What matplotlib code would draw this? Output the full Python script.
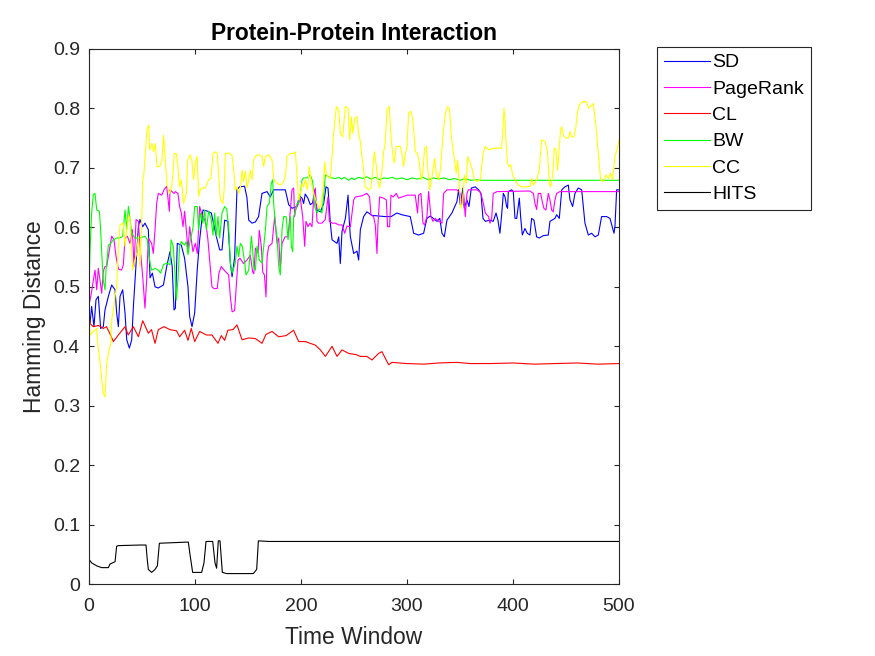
import matplotlib
matplotlib.use('Agg')
import matplotlib.pyplot as plt

plt.rcParams['font.family'] = ['Liberation Sans', 'DejaVu Sans']

# (time window, hamming distance) breakpoints
sd = [(0, 0.44), (1, 0.439), (2.5, 0.467), (4.7, 0.433), (6.6, 0.478), (8.8, 0.484), (11, 0.43),
      (13.5, 0.433), (15.1, 0.461), (18.3, 0.484), (21.4, 0.503), (24.6, 0.495), (26.1, 0.456),
      (27.7, 0.433), (29.3, 0.484), (31.8, 0.495), (34, 0.456), (35.6, 0.411), (38.1, 0.397),
      (40.3, 0.411), (41.9, 0.467), (44.4, 0.537), (46.6, 0.601), (48.1, 0.613), (50.7, 0.601),
      (52.8, 0.607), (56, 0.596), (57.6, 0.515), (59.8, 0.523), (62.3, 0.5), (65.4, 0.498),
      (70.2, 0.503), (73.3, 0.534), (76.4, 0.559), (78.5, 0.534), (80.2, 0.461), (81.5, 0.464),
      (83.3, 0.573), (87.1, 0.57), (90.2, 0.548), (93.4, 0.5), (95, 0.45), (97.2, 0.433),
      (99.7, 0.456), (102.2, 0.531), (104.4, 0.579), (107.5, 0.629), (112.2, 0.627), (115.4, 0.624),
      (120.1, 0.585), (123.3, 0.562), (125.5, 0.562), (128, 0.612), (131, 0.61), (133.4, 0.539),
      (135, 0.517), (137.4, 0.55), (139.6, 0.663), (141.9, 0.668), (146.8, 0.669), (149, 0.65),
      (150.7, 0.612), (153.8, 0.607), (157, 0.609), (160, 0.618), (163.2, 0.657), (168, 0.66),
      (171, 0.651), (174.2, 0.663), (185.2, 0.663), (188.4, 0.638), (191.5, 0.632), (196.3, 0.635),
      (198.5, 0.653), (201, 0.649), (202.5, 0.64), (204, 0.656), (206.5, 0.649), (208.8, 0.638),
      (211, 0.641), (213, 0.663), (215.1, 0.629), (218.3, 0.626), (221.4, 0.64), (223.6, 0.668),
      (225.5, 0.666), (227.7, 0.607), (229.3, 0.579), (234, 0.573), (235.6, 0.584), (237.1, 0.539),
      (238.7, 0.593), (241.9, 0.615), (244.4, 0.654), (245.6, 0.61), (246.6, 0.584), (249.7, 0.556),
      (252.8, 0.56), (254.4, 0.545), (256, 0.596), (259.1, 0.618), (262.2, 0.626), (267, 0.62),
      (273.2, 0.619), (279.5, 0.618), (285, 0.618), (290.5, 0.624), (295.3, 0.621), (303.1, 0.618),
      (306.3, 0.59), (311, 0.587), (315.7, 0.59), (318.8, 0.615), (322, 0.619), (328.3, 0.61),
      (331, 0.615), (333, 0.59), (335.2, 0.584), (337.7, 0.612), (342.4, 0.624), (347.1, 0.643),
      (348.7, 0.663), (350.3, 0.638), (352.8, 0.666), (354, 0.632), (356.6, 0.646), (358.5, 0.635),
      (360.7, 0.666), (364.4, 0.668), (367.6, 0.663), (369.8, 0.657), (371.7, 0.615), (373.9, 0.61),
      (378.3, 0.612), (381.4, 0.61), (384, 0.624), (385.8, 0.612), (387.7, 0.59), (389.3, 0.621),
      (390.9, 0.657), (392.5, 0.651), (394, 0.635), (394.9, 0.632), (395.6, 0.66), (398.7, 0.663),
      (400.3, 0.66), (401.9, 0.615), (403.5, 0.615), (406, 0.649), (407.2, 0.618), (408.8, 0.587),
      (411.3, 0.598), (413.5, 0.59), (416, 0.587), (417.6, 0.615), (419.8, 0.612), (422.3, 0.584),
      (424.8, 0.582), (428.6, 0.586), (433.3, 0.587), (434.9, 0.61), (439.6, 0.615), (441.2, 0.621),
      (443.7, 0.615), (446, 0.663), (449, 0.668), (452.2, 0.671), (453.8, 0.646), (456.3, 0.635),
      (458.5, 0.657), (461.6, 0.666), (464.8, 0.663), (467.9, 0.607), (471.1, 0.587), (474.2, 0.59),
      (477.4, 0.584), (480.5, 0.587), (483.6, 0.618), (488.4, 0.618), (491.5, 0.615), (495.3, 0.59),
      (496.2, 0.601), (497.8, 0.663), (500, 0.663)]

pagerank = [(0, 0.47), (1, 0.478), (2.5, 0.492), (4.1, 0.511), (5.7, 0.528), (7.3, 0.495),
            (8.8, 0.531), (10.4, 0.511), (12, 0.489), (13.5, 0.526), (15.1, 0.534), (16.7, 0.534),
            (18.3, 0.551), (21.4, 0.585), (23.6, 0.579), (25.5, 0.551), (27.7, 0.53), (30.8, 0.528),
            (32.4, 0.537), (34, 0.582), (36.2, 0.585), (38.7, 0.573), (40.9, 0.596), (42.5, 0.534),
            (44.4, 0.613), (46.6, 0.61), (48.1, 0.568), (50.7, 0.517), (52.8, 0.464), (54.4, 0.511),
            (56, 0.582), (59.1, 0.573), (60.7, 0.556), (62.3, 0.596), (63.9, 0.641), (65.4, 0.657),
            (68.6, 0.654), (70.8, 0.663), (73.3, 0.669), (75.8, 0.627), (76.4, 0.663), (80.2, 0.657),
            (81.5, 0.66), (83.9, 0.657), (85.5, 0.635), (87.1, 0.624), (88.7, 0.601), (90.2, 0.627),
            (91.8, 0.596), (93.4, 0.562), (95, 0.601), (96.5, 0.579), (98.1, 0.559), (100.3, 0.573),
            (102.2, 0.556), (104.4, 0.635), (106, 0.624), (109.1, 0.613), (110.7, 0.601),
            (112.2, 0.579), (113.8, 0.545), (116, 0.5), (117.9, 0.497), (121, 0.497), (122.6, 0.523),
            (124.8, 0.534), (128, 0.527), (131.8, 0.52), (133.4, 0.483), (135, 0.458), (137.4, 0.46),
            (138.7, 0.495), (140.6, 0.545), (142.5, 0.548), (145.9, 0.539), (149, 0.545),
            (152.2, 0.553), (154.4, 0.525), (155.5, 0.522), (157, 0.565), (159.5, 0.557),
            (160.7, 0.595), (162.6, 0.568), (163.9, 0.525), (165.5, 0.52), (167, 0.483), (168, 0.55),
            (169.5, 0.568), (172.7, 0.573), (175.2, 0.618), (177.4, 0.573), (179, 0.582),
            (180.5, 0.528), (182.1, 0.573), (185, 0.584), (187.8, 0.584), (190, 0.629), (191.5, 0.663),
            (193.1, 0.666), (194, 0.618), (195, 0.63), (197.2, 0.638), (199.4, 0.649), (201.6, 0.618),
            (203.5, 0.568), (204.7, 0.61), (206.6, 0.601), (208.5, 0.607), (210.4, 0.601), (212, 0.651),
            (213.5, 0.666), (215.1, 0.61), (216.7, 0.607), (219.8, 0.607), (222.9, 0.613),
            (225.5, 0.651), (226.8, 0.61), (229.3, 0.607), (232.4, 0.607), (235.6, 0.604),
            (238.7, 0.604), (241.2, 0.59), (243.4, 0.602), (246.6, 0.601), (249.7, 0.646),
            (251.3, 0.651), (257.6, 0.653), (262.2, 0.657), (264.7, 0.651), (266, 0.621),
            (268.5, 0.618), (270.1, 0.604), (271.7, 0.556), (272.6, 0.604), (274.2, 0.651),
            (278, 0.649), (280.5, 0.646), (281.7, 0.601), (283.6, 0.601), (284.9, 0.654), (287, 0.651),
            (289.9, 0.657), (292.1, 0.649), (295.3, 0.651), (300, 0.654), (307.8, 0.654), (310, 0.624),
            (311, 0.654), (313.2, 0.657), (315.1, 0.607), (316.6, 0.604), (318.8, 0.618), (320.4, 0.66),
            (322.6, 0.618), (324.5, 0.61), (326.7, 0.615), (330, 0.61), (333, 0.607), (334.6, 0.657),
            (337.7, 0.663), (347.1, 0.663), (350.3, 0.657), (351.9, 0.638), (353.4, 0.657),
            (355, 0.618), (356.6, 0.657), (358, 0.663), (366, 0.663), (368.5, 0.66), (369.8, 0.657),
            (372.3, 0.638), (373.9, 0.624), (377, 0.618), (378.3, 0.607), (379.9, 0.615),
            (381.4, 0.657), (385, 0.66), (416, 0.661), (419.2, 0.657), (420.8, 0.64), (422.3, 0.63),
            (423.9, 0.657), (426.1, 0.657), (428, 0.64), (429.2, 0.632), (431.1, 0.629),
            (433.3, 0.657), (434.9, 0.646), (436.5, 0.629), (438, 0.626), (439.6, 0.646),
            (441.2, 0.657), (444.3, 0.66), (500, 0.66)]

cl = [(0, 0.455), (1, 0.438), (4.1, 0.433), (9, 0.435), (13.5, 0.43), (16.5, 0.433), (19.8, 0.421),
      (23, 0.408), (27.7, 0.419), (34, 0.433), (37, 0.419), (41.9, 0.433), (46.6, 0.416),
      (50.7, 0.443), (56, 0.422), (59, 0.428), (62.3, 0.405), (65.4, 0.428), (70.8, 0.433),
      (76.4, 0.428), (82.7, 0.426), (85.5, 0.416), (90.2, 0.427), (93.4, 0.41), (96.5, 0.43),
      (99.7, 0.408), (104.4, 0.425), (110.7, 0.419), (116, 0.419), (121.7, 0.405), (124.8, 0.418),
      (128, 0.41), (131, 0.427), (135.8, 0.428), (139.6, 0.436), (144.4, 0.411), (150.7, 0.414),
      (157, 0.413), (163.2, 0.405), (167, 0.42), (172.7, 0.425), (179, 0.416), (186, 0.418),
      (193, 0.427), (197.8, 0.408), (204, 0.408), (213.5, 0.402), (218.3, 0.394), (223, 0.383),
      (229.3, 0.4), (234, 0.383), (238.7, 0.394), (245, 0.388), (252, 0.386), (256, 0.383),
      (262.2, 0.383), (267, 0.377), (273.2, 0.388), (276.4, 0.391), (279.5, 0.38), (282.7, 0.369),
      (285.8, 0.373), (300, 0.371), (315.7, 0.37), (330, 0.372), (347, 0.373), (360, 0.371),
      (378.6, 0.371), (400, 0.372), (420, 0.37), (440, 0.371), (460, 0.372), (480, 0.37),
      (500, 0.371)]

bw = [(0, 0.5), (1, 0.562), (2.5, 0.624), (4.1, 0.655), (5.7, 0.657), (7.3, 0.629), (9.8, 0.627),
      (11, 0.596), (12, 0.556), (13.5, 0.511), (15.1, 0.495), (16.1, 0.528), (17.3, 0.551),
      (18.3, 0.57), (20.5, 0.573), (23, 0.579), (26.1, 0.582), (29, 0.582), (31.8, 0.585),
      (34, 0.629), (35.6, 0.596), (37.2, 0.635), (38.7, 0.613), (40.3, 0.59), (43.4, 0.582),
      (48.1, 0.582), (52.8, 0.585), (55, 0.579), (57.6, 0.54), (59.1, 0.528), (62.3, 0.531),
      (65.4, 0.528), (67.6, 0.523), (70.2, 0.537), (73.3, 0.54), (76.4, 0.537), (77.4, 0.579),
      (79.5, 0.568), (81.1, 0.523), (82.4, 0.478), (83.9, 0.511), (85.5, 0.568), (87.1, 0.576),
      (90.2, 0.57), (91.8, 0.576), (93.4, 0.554), (95, 0.573), (98.1, 0.599), (99.7, 0.635),
      (102.2, 0.635), (103.4, 0.596), (105.3, 0.624), (107.5, 0.607), (109.1, 0.629),
      (110.7, 0.596), (112.9, 0.627), (115.4, 0.613), (117, 0.587), (118.5, 0.624), (120.1, 0.585),
      (121.7, 0.618), (123.3, 0.582), (125.5, 0.624), (128, 0.635), (130, 0.63), (131.8, 0.599),
      (133.4, 0.54), (135, 0.523), (136.5, 0.531), (138, 0.54), (139.6, 0.568), (141.2, 0.551),
      (142.8, 0.573), (144.7, 0.568), (146.9, 0.54), (148.1, 0.52), (150.7, 0.528), (153.2, 0.585),
      (154.4, 0.562), (155.4, 0.534), (157, 0.528), (158.5, 0.568), (160.7, 0.545), (163.2, 0.54),
      (164.8, 0.568), (166.4, 0.595), (168, 0.635), (170.2, 0.641), (172, 0.674), (173.3, 0.68),
      (174.2, 0.641), (175.8, 0.607), (177.4, 0.584), (179, 0.534), (180.5, 0.52), (182.1, 0.596),
      (183.7, 0.618), (186, 0.618), (187.8, 0.579), (190, 0.618), (190.9, 0.568), (192.2, 0.559),
      (193.1, 0.618), (194.7, 0.627), (196.3, 0.64), (197.8, 0.64), (199.4, 0.657), (201, 0.68),
      (202.5, 0.683), (205.6, 0.683), (208.8, 0.688), (211, 0.677), (212.9, 0.635), (215.1, 0.624),
      (217.3, 0.632), (219.8, 0.624), (221.4, 0.652), (223, 0.688), (226.1, 0.685), (229, 0.683),
      (232.4, 0.682), (236, 0.684), (238, 0.681), (241, 0.684), (245, 0.679), (248, 0.683),
      (250, 0.68), (254.4, 0.684), (258, 0.682), (262, 0.685), (266, 0.681), (270, 0.684),
      (274, 0.68), (278, 0.683), (282, 0.682), (286, 0.684), (290, 0.681), (295, 0.683), (300, 0.68),
      (305, 0.683), (310, 0.681), (315, 0.684), (320, 0.68), (325, 0.683), (330, 0.681),
      (335, 0.683), (340, 0.68), (345, 0.682), (350, 0.679), (355, 0.682), (360, 0.679),
      (365, 0.68), (370, 0.679), (500, 0.679)]

cc = [(0, 0.456), (1, 0.419), (4.1, 0.425), (7.3, 0.43), (8.8, 0.394), (10.4, 0.374), (12, 0.343),
      (13.5, 0.321), (15.1, 0.315), (16.7, 0.371), (18.3, 0.388), (20.5, 0.405), (21.4, 0.444),
      (23, 0.461), (24.6, 0.484), (26.1, 0.5), (27.7, 0.568), (29.3, 0.604), (32.4, 0.607),
      (34, 0.568), (35.6, 0.596), (37.2, 0.621), (38.7, 0.613), (41.2, 0.528), (43.4, 0.545),
      (45, 0.556), (46.6, 0.585), (48.1, 0.534), (49.7, 0.607), (50.7, 0.68), (51.6, 0.685),
      (53.1, 0.724), (54.7, 0.764), (56.3, 0.772), (57.2, 0.73), (59.4, 0.741), (61, 0.727),
      (62.6, 0.741), (64.2, 0.702), (66.7, 0.702), (68.9, 0.713), (70.4, 0.755), (72, 0.713),
      (73.6, 0.671), (76.1, 0.657), (78.3, 0.671), (80.5, 0.724), (82.4, 0.724), (83.6, 0.708),
      (85.5, 0.668), (87.1, 0.68), (89.3, 0.64), (91.8, 0.657), (93.1, 0.713), (95.6, 0.722),
      (97, 0.713), (98.7, 0.68), (100.3, 0.708), (102, 0.719), (103.5, 0.652), (104.8, 0.663),
      (106.6, 0.666), (109.7, 0.666), (112.9, 0.68), (115.1, 0.682), (117, 0.724), (119.2, 0.727),
      (121, 0.724), (123.9, 0.646), (126.4, 0.64), (127.5, 0.663), (128.6, 0.724), (131.8, 0.725),
      (134.9, 0.721), (136.5, 0.696), (138, 0.663), (139.6, 0.668), (141.2, 0.657), (142.8, 0.666),
      (144.4, 0.696), (145.9, 0.677), (147.5, 0.694), (149.1, 0.666), (150.7, 0.68), (152.2, 0.696),
      (153.8, 0.68), (155.4, 0.713), (157, 0.72), (160, 0.722), (163.2, 0.719), (164.8, 0.702),
      (166.4, 0.719), (169.5, 0.722), (172.7, 0.713), (174.2, 0.682), (177.4, 0.674),
      (180.5, 0.671), (183.7, 0.677), (185.2, 0.685), (186.8, 0.719), (190, 0.724), (193, 0.724),
      (194.7, 0.727), (196.3, 0.685), (197.8, 0.646), (199.4, 0.657), (201, 0.674), (202.5, 0.668),
      (204.1, 0.68), (206, 0.663), (207.9, 0.702), (209.8, 0.674), (212, 0.657), (215.1, 0.64),
      (217.3, 0.632), (219, 0.638), (220.8, 0.663), (222.4, 0.71), (223.6, 0.691), (225.5, 0.685),
      (227.7, 0.682), (229.3, 0.719), (230.8, 0.758), (233.4, 0.803), (235.6, 0.797),
      (237.1, 0.758), (239.3, 0.752), (241.9, 0.803), (244.4, 0.8), (246, 0.747), (247.5, 0.786),
      (249, 0.758), (250.7, 0.783), (252.8, 0.786), (254.4, 0.758), (256, 0.744), (257.5, 0.719),
      (259.1, 0.696), (260.7, 0.668), (263.8, 0.663), (266, 0.666), (267.9, 0.702), (269.2, 0.727),
      (271, 0.705), (272.3, 0.68), (274.2, 0.666), (276.4, 0.696), (278, 0.727), (279.5, 0.741),
      (281.1, 0.797), (283.3, 0.803), (284.9, 0.752), (286.8, 0.719), (288, 0.708), (289.9, 0.736),
      (293.7, 0.736), (295.3, 0.722), (296.8, 0.702), (298.4, 0.724), (300, 0.733), (301.5, 0.792),
      (303.7, 0.795), (305.6, 0.781), (307.8, 0.727), (310, 0.724), (311.9, 0.705), (313.2, 0.68),
      (314.9, 0.691), (316.6, 0.733), (318.2, 0.736), (319.5, 0.702), (321.4, 0.663),
      (322.6, 0.674), (324.5, 0.696), (326.1, 0.716), (327.6, 0.691), (329.8, 0.68), (331.5, 0.696),
      (333.9, 0.752), (336.1, 0.792), (338.3, 0.803), (340.2, 0.797), (341.8, 0.752), (344, 0.724),
      (346.5, 0.691), (347.8, 0.713), (349.7, 0.663), (350.9, 0.632), (352.5, 0.64), (354.1, 0.688),
      (356, 0.674), (357.2, 0.719), (359.1, 0.71), (361.3, 0.699), (363.5, 0.68), (366, 0.677),
      (369.2, 0.68), (371.7, 0.724), (373.9, 0.736), (377, 0.73), (381.7, 0.733), (389.3, 0.733),
      (390.3, 0.758), (391.5, 0.8), (392.5, 0.78), (393.4, 0.747), (394.7, 0.708), (396.5, 0.702),
      (398, 0.705), (399.7, 0.688), (401.9, 0.68), (405, 0.671), (408.2, 0.668), (412.9, 0.668),
      (416, 0.669), (417.6, 0.682), (419.2, 0.671), (422.3, 0.68), (424.8, 0.696), (427, 0.747),
      (430.2, 0.744), (432.4, 0.73), (434.3, 0.674), (435.5, 0.668), (437.4, 0.685), (439, 0.733),
      (440.5, 0.73), (442.1, 0.696), (443.7, 0.736), (445, 0.764), (445.9, 0.769), (448.1, 0.752),
      (450, 0.75), (452.2, 0.75), (453.8, 0.761), (455.3, 0.752), (457.5, 0.752), (459.4, 0.769),
      (460.7, 0.792), (462.6, 0.806), (465.7, 0.811), (469.5, 0.811), (471.1, 0.8), (475.8, 0.808),
      (478.3, 0.769), (479.6, 0.741), (481.4, 0.705), (482.7, 0.68), (485.2, 0.677), (487.7, 0.688),
      (490, 0.682), (492.1, 0.691), (494, 0.68), (496.2, 0.719), (498.4, 0.733), (500, 0.747)]

hits = [(0, 0.042), (2.5, 0.036), (7.3, 0.031), (12, 0.028), (18.3, 0.028), (19.8, 0.034),
        (24.6, 0.038), (26.1, 0.064), (27.7, 0.065), (48, 0.066), (53.8, 0.066), (55, 0.041),
        (56, 0.025), (59.1, 0.02), (62.3, 0.025), (64.5, 0.031), (66.4, 0.069), (93.7, 0.071),
        (95.3, 0.05), (97.8, 0.02), (106.3, 0.02), (108.5, 0.036), (110.4, 0.072), (116.7, 0.072),
        (118.9, 0.036), (120.4, 0.027), (122, 0.073), (123.6, 0.073), (125.8, 0.02), (129.9, 0.018),
        (155, 0.018), (158.2, 0.025), (159.8, 0.073), (170, 0.072), (500, 0.072)]

names = ['SD', 'PageRank', 'CL', 'BW', 'CC', 'HITS']
series = [sd, pagerank, cl, bw, cc, hits]
colors = ['#0000ff', '#ff00ff', '#ff0000', '#00ff00', '#ffff00', '#000000']

fig = plt.figure(figsize=(8.75, 6.56), dpi=100)
ax = fig.add_axes([0.1017, 0.1093, 0.6057, 0.8163])

for name, data, c in zip(names, series, colors):
    t, v = zip(*data)
    ax.plot(t, v, color=c, lw=0.8, label=name)

ax.set_xlim(0, 500)
ax.set_ylim(0, 0.9)
ax.set_xticks([0, 100, 200, 300, 400, 500])
ax.set_yticks([0, 0.1, 0.2, 0.3, 0.4, 0.5, 0.6, 0.7, 0.8, 0.9])
ax.set_yticklabels(['0', '0.1', '0.2', '0.3', '0.4', '0.5', '0.6', '0.7', '0.8', '0.9'])

dark = '#262626'
for s in ax.spines.values():
    s.set_color(dark)
    s.set_linewidth(0.8)
ax.tick_params(direction='in', length=3.5, width=0.8, top=True, right=True,
               colors=dark, labelsize=14)
ax.tick_params(axis='x', pad=10)
ax.tick_params(axis='y', pad=6.5)

ax.set_xlabel('Time Window', fontsize=16.4, color=dark, labelpad=8)
ax.set_ylabel('Hamming Distance', fontsize=16.4, color=dark, labelpad=5)
ax.set_title('Protein-Protein Interaction', fontsize=16.4, fontweight='bold', pad=6)

leg = fig.legend(loc='upper left', bbox_to_anchor=(657 / 875, 1 - 47 / 656), fontsize=14,
                 frameon=True, fancybox=False, framealpha=1, edgecolor=dark,
                 handlelength=2.4, handletextpad=0.1, borderpad=0.35, labelspacing=0.45,
                 borderaxespad=0)
leg.get_frame().set_linewidth(0.8)

fig.savefig('out.png', dpi=100)
